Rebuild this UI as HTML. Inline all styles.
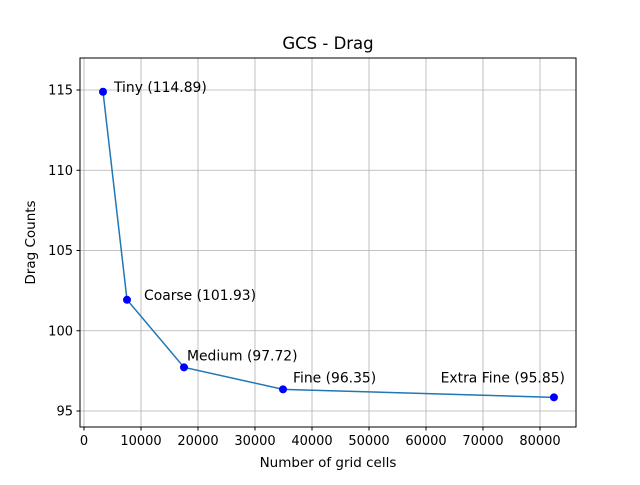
<!DOCTYPE html>
<html><head><meta charset="utf-8"><style>
body{margin:0;background:#fff;}
svg text{font-family:"DejaVu Sans","Liberation Sans",sans-serif;}
</style></head><body>
<svg id="chart" width="640" height="480" xmlns="http://www.w3.org/2000/svg">
<rect width="640" height="480" fill="#fff"/>
<g id="grid"></g><g id="axes"></g><g id="series"></g>
<rect x="80" y="58" width="496" height="369" fill="none" stroke="#000" stroke-width="1"/>
<text x="328" y="49" text-anchor="middle" font-size="16.5">GCS - Drag</text>
<text x="328" y="467" text-anchor="middle" font-size="13.5">Number of grid cells</text>
<text transform="translate(35,242.5) rotate(-90)" text-anchor="middle" font-size="13.5">Drag Counts</text>
</svg>
<script>
const labels=["Tiny","Coarse","Medium","Fine","Extra Fine"];
const cells=[3333,7544,17544,34912,82450];
const drag=[114.89,101.93,97.72,96.35,95.85];
const xTicks=[0,10000,20000,30000,40000,50000,60000,70000,80000];
const yTicks=[95,100,105,110,115];
const NS="http://www.w3.org/2000/svg";
const X=v=>84+v*0.0057;
const Y=v=>411-(v-95)*16.05;
function mk(t,a,p){const e=document.createElementNS(NS,t);for(const k in a)e.setAttribute(k,a[k]);p.appendChild(e);return e;}
const g=document.getElementById('grid'),ax=document.getElementById('axes'),s=document.getElementById('series');
xTicks.forEach(v=>{const x=X(v);
 const l=mk('line',{x1:x,x2:x,y1:58,y2:427,stroke:'#b0b0b0','stroke-width':0.8},g);
 
 
 mk('line',{x1:x,x2:x,y1:427,y2:430.5,stroke:'#000'},ax);
 const t=mk('text',{x:x,y:445,'text-anchor':'middle','font-size':13},ax);t.textContent=v;
 
 });
yTicks.forEach(v=>{const y=Y(v);
 const l=mk('line',{x1:80,x2:576,y1:y,y2:y,stroke:'#b0b0b0','stroke-width':0.8},g);
 
 
 mk('line',{x1:76.5,x2:80,y1:y,y2:y,stroke:'#000'},ax);
 const t=mk('text',{x:73,y:y+4.5,'text-anchor':'end','font-size':13},ax);t.textContent=v;
 
 });
const pl=mk('polyline',{points:cells.map((c,i)=>X(c)+','+Y(drag[i])).join(' '),fill:'none',stroke:'#1f77b4','stroke-width':1.5},s);


const off=[[11,0,'start'],[17,0,'start'],[3,-7,'start'],[10,-7,'start'],[11,-15,'end']];
cells.forEach((c,i)=>{
 const p=mk('circle',{cx:X(c),cy:Y(drag[i]),r:4,fill:'#0000ff'},s);
 
 
 const o=off[i];
 const t=mk('text',{x:X(c)+o[0],y:Y(drag[i])+o[1],'text-anchor':o[2],'font-size':13.9},s);
 t.textContent=labels[i]+' ('+drag[i].toFixed(2)+')';
 
 
});
</script>
</body></html>
